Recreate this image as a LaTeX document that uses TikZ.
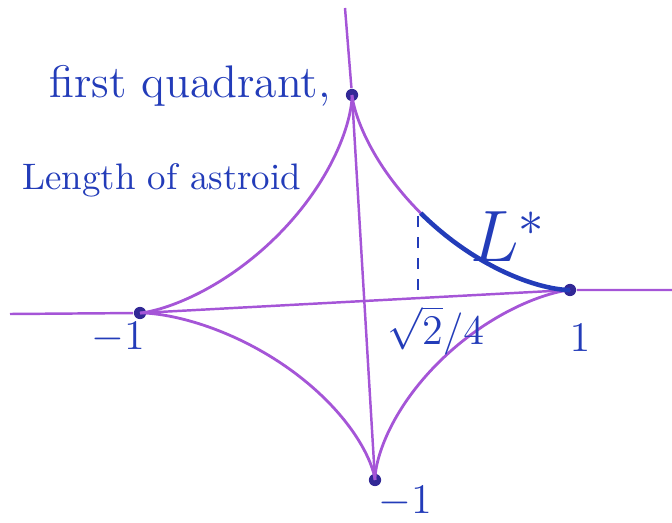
\documentclass[tikz,border=0pt]{standalone}
\usepackage{amsmath,amssymb}
\usepackage{xcolor}
\usepackage{tikz}
\usetikzlibrary{calc}
\definecolor{penpurple}{RGB}{165, 85, 215}
\definecolor{inkblue}{RGB}{35, 60, 185}
\definecolor{darkink}{RGB}{50, 40, 150}

\begin{document}
\begin{tikzpicture}[
    every node/.style={text=inkblue},
    axisline/.style={draw=penpurple, line width=0.7pt},
    curveline/.style={draw=penpurple, line width=0.8pt},
    starline/.style={draw=inkblue, line width=1.3pt},
    cusp/.style={circle, fill=darkink, inner sep=0pt, minimum size=3.5pt},
    handtext/.style={font=\fontsize{13}{15}\selectfont}
]
\useasboundingbox (0,0) rectangle (6.72,5.22);

% axes
\coordinate (xl) at (0.10,2.08);
\coordinate (xr) at (6.72,2.32);
\coordinate (yt) at (3.45,5.14);
\node[cusp] (top) at (3.52,4.27) {};
\node[cusp] (right) at (5.70,2.32) {};
\node[cusp] (left) at (1.40,2.09) {};
\node[cusp] (bot) at (3.75,0.42) {};
\draw[axisline] (xl) -- (left) -- (right) -- (xr);
\draw[axisline] (yt) -- (top) -- (bot);

% astroid, one arc per quadrant
\foreach \ax/\ay/\bx/\by in {2.06/0.11/-0.12/2.06, -2.24/-0.12/-0.12/2.06, -2.24/-0.12/0.11/-1.79, 2.06/0.11/0.11/-1.79}
  \draw[curveline] plot[domain=0:90, samples=60, smooth]
    ({3.64+\ax*pow(cos(\x),3)+\bx*pow(sin(\x),3)}, {2.21+\ay*pow(cos(\x),3)+\by*pow(sin(\x),3)});

% arc L* and its foot
\draw[starline] plot[domain=0:48, samples=40, smooth]
  ({3.64+2.06*pow(cos(\x),3)-0.12*pow(sin(\x),3)}, {2.21+0.11*pow(cos(\x),3)+2.06*pow(sin(\x),3)});
\coordinate (foot) at (4.18,2.25);
\coordinate (mark) at (4.18,3.06);
\draw[inkblue, dashed, line width=0.7pt] (mark) -- (foot);

% labels
\node[handtext] (title) at (1.90,4.36) {first quadrant,};
\node[handtext, font=\fontsize{10.5}{12}\selectfont, anchor=west] (length) at (0.10,3.42) {Length of astroid};
\node[font=\fontsize{22}{24}\selectfont] (lstar) at (5.08,2.85) {$L^{*}$};
\node[handtext, below=-1pt, xshift=5pt] (root) at (foot) {$\sqrt{2}/4$};
\node[handtext] (one) at (5.80,1.84) {$1$};
\node[handtext] (mone) at (1.18,1.84) {$-1$};
\node[handtext] (mtwo) at (4.05,0.20) {$-1$};

\end{tikzpicture}
\end{document}
